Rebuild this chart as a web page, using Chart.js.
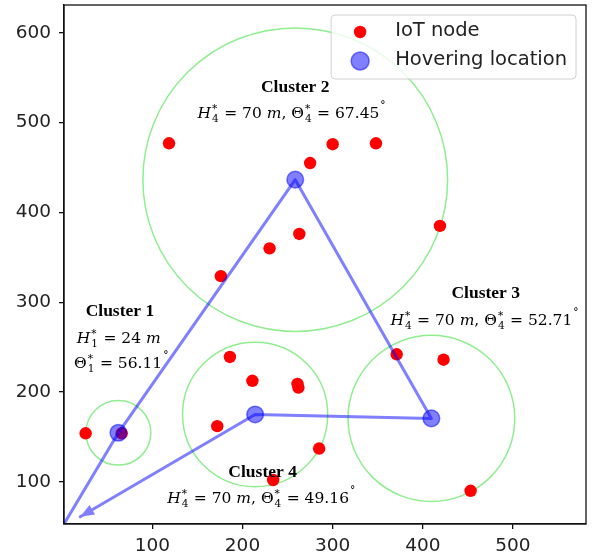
<!DOCTYPE html>
<html lang="en">
<head>
<meta charset="UTF-8">
<title>UAV hovering locations</title>
<script src="https://cdn.jsdelivr.net/npm/chart.js"></script>
<style>
    body { margin: 0; background: #fff; }
    #wrap { width: 594px; height: 560px; position: relative; }
</style>
</head>
<body>
<div id="wrap"><canvas id="clusterChart"></canvas></div>
<script>
// IoT node positions (m)
const nodeX = [26, 66, 118.5, 300, 348, 275, 419, 263, 230, 176, 186, 211, 261, 262, 172, 234, 285, 371, 423, 453];
const nodeY = [154, 154, 477, 476, 477, 455, 385, 376, 360, 329, 239, 212.5, 209, 205, 162, 102, 137, 242, 236, 90];

// hovering location of each cluster (cluster 1..4) and its coverage radius
const hoverX = [62.3, 258.5, 409.5, 214];
const hoverY = [154.6, 436.5, 170.6, 175];
const coverRadius = [36, 169, 92.5, 80.5];

// flight starts at the depot, visits clusters 1 -> 2 -> 3 -> 4, then returns
const pathStart = [2, 53];
const pathEnd = [20, 61];

// axis ranges / ticks
const xRange = [2, 581];
const yRange = [53, 631];
const xTicks = [100, 200, 300, 400, 500];
const yTicks = [100, 200, 300, 400, 500, 600];

// annotations
const clusterNames = ['Cluster 1', 'Cluster 2', 'Cluster 3', 'Cluster 4'];
const heightVals = ['24', '70', '70', '70'];
const angleVals = ['56.11', '67.45', '52.71', '49.16'];
const subIndex = ['1', '4', '4', '4'];
const titleX = [64, 258.4, 469.8, 222.3];
const titleY = [284.5, 534.3, 304.2, 105.6];
const mathX = [254.7, 468.7, 221];      // clusters 2..4, one line
const mathY = [504.7, 274.5, 76];
const c1LineX = [62.7, 65.8];           // cluster 1, two lines
const c1LineY = [254.6, 226.3];

const blueA = 'rgba(0,0,255,0.5)';
const mainFont = '15.5px "DejaVu Serif"';
const scriptFont = '10.5px "DejaVu Serif"';

function drawRuns(ctx, runs, cx, by) {
    const widths = runs.map(r => {
        if (r.sup !== undefined || r.sub !== undefined) {
            ctx.font = scriptFont;
            const a = r.sup ? ctx.measureText(r.sup).width : 0;
            const b = r.sub ? ctx.measureText(r.sub).width : 0;
            return Math.max(a, b) + 1.5;
        }
        ctx.font = (r.i ? 'italic ' : '') + mainFont;
        return ctx.measureText(r.t).width;
    });
    const total = widths.reduce((s, w) => s + w, 0);
    let px = cx - total / 2;
    ctx.textAlign = 'left';
    ctx.textBaseline = 'alphabetic';
    runs.forEach((r, k) => {
        if (r.sup !== undefined || r.sub !== undefined) {
            ctx.font = scriptFont;
            if (r.sup) ctx.fillText(r.sup, px + 1, by - (r.sup === '°' ? 9 : 6));
            if (r.sub) ctx.fillText(r.sub, px + 1, by + 4);
        } else {
            ctx.font = (r.i ? 'italic ' : '') + mainFont;
            ctx.fillText(r.t, px, by);
        }
        px += widths[k];
    });
}

function mathLine(k) {
    return [
        {t: 'H', i: true}, {sup: '*', sub: subIndex[k]},
        {t: ' = ' + heightVals[k] + ' '}, {t: 'm', i: true}, {t: ', '},
        {t: 'Θ'}, {sup: '*', sub: subIndex[k]},
        {t: ' = ' + angleVals[k]}, {sup: '°'}
    ];
}

const decor = {
    id: 'decor',
    beforeDatasetsDraw(chart) {
        const {ctx, chartArea, scales: {x, y}} = chart;
        ctx.save();
        ctx.beginPath();
        ctx.rect(chartArea.left, chartArea.top, chartArea.width, chartArea.height);
        ctx.clip();
        ctx.strokeStyle = '#90ee90';
        ctx.lineWidth = 1.5;
        hoverX.forEach((hx, i) => {
            const cx = x.getPixelForValue(hx), cy = y.getPixelForValue(hoverY[i]);
            const rx = Math.abs(x.getPixelForValue(hx + coverRadius[i]) - cx);
            const ry = Math.abs(y.getPixelForValue(hoverY[i] + coverRadius[i]) - cy);
            ctx.beginPath();
            ctx.ellipse(cx, cy, rx, ry, 0, 0, Math.PI * 2);
            ctx.stroke();
        });
        ctx.restore();
    },
    afterDatasetsDraw(chart) {
        const {ctx, chartArea, scales: {x, y}} = chart;
        ctx.save();

        // arrow head at the end of the return leg
        const n = hoverX.length - 1;
        const tx = x.getPixelForValue(pathEnd[0]), ty = y.getPixelForValue(pathEnd[1]);
        const fx = x.getPixelForValue(hoverX[n]), fy = y.getPixelForValue(hoverY[n]);
        const ang = Math.atan2(ty - fy, tx - fx);
        const hl = 14, hw = 5.5;
        ctx.fillStyle = '#8080ff';
        ctx.beginPath();
        ctx.moveTo(tx, ty);
        ctx.lineTo(tx - hl * Math.cos(ang) - hw * Math.sin(ang), ty - hl * Math.sin(ang) + hw * Math.cos(ang));
        ctx.lineTo(tx - hl * Math.cos(ang) + hw * Math.sin(ang), ty - hl * Math.sin(ang) - hw * Math.cos(ang));
        ctx.closePath();
        ctx.fill();

        // cluster annotations
        ctx.fillStyle = '#000';
        clusterNames.forEach((name, i) => {
            ctx.font = 'bold 17.5px "Liberation Serif"';
            ctx.textAlign = 'center';
            ctx.textBaseline = 'alphabetic';
            ctx.fillText(name, x.getPixelForValue(titleX[i]), y.getPixelForValue(titleY[i]));
        });
        drawRuns(ctx, [{t: 'H', i: true}, {sup: '*', sub: '1'}, {t: ' = ' + heightVals[0] + ' '}, {t: 'm', i: true}],
            x.getPixelForValue(c1LineX[0]), y.getPixelForValue(c1LineY[0]));
        drawRuns(ctx, [{t: 'Θ'}, {sup: '*', sub: '1'}, {t: ' = ' + angleVals[0]}, {sup: '°'}],
            x.getPixelForValue(c1LineX[1]), y.getPixelForValue(c1LineY[1]));
        for (let k = 1; k < 4; k++) {
            drawRuns(ctx, mathLine(k), x.getPixelForValue(mathX[k - 1]), y.getPixelForValue(mathY[k - 1]));
        }

        // frame
        ctx.strokeStyle = '#111';
        ctx.lineWidth = 1.3;
        ctx.strokeRect(chartArea.left, chartArea.top, chartArea.width, chartArea.height);

        // legend
        const items = [chart.data.datasets[0], chart.data.datasets[2]];
        ctx.font = '19.5px "DejaVu Sans"';
        const tw = Math.max(...items.map(d => ctx.measureText(d.label).width));
        const bw = 64 + tw + 9, bh = 64;
        const bx = chartArea.right - 10 - bw, byy = chartArea.top + 10;
        ctx.fillStyle = 'rgba(255,255,255,0.8)';
        ctx.strokeStyle = '#d0d0d0';
        ctx.lineWidth = 1;
        ctx.beginPath();
        ctx.roundRect(bx, byy, bw, bh, 4);
        ctx.fill();
        ctx.stroke();
        items.forEach((d, k) => {
            const ry = byy + 17 + k * 29;
            ctx.fillStyle = d.backgroundColor;
            ctx.beginPath();
            ctx.arc(bx + 29, ry, k === 0 ? 6.2 : 9, 0, Math.PI * 2);
            ctx.fill();
            if (k === 1) {
                ctx.strokeStyle = d.borderColor;
                ctx.lineWidth = 1.5;
                ctx.stroke();
            }
            ctx.fillStyle = '#222';
            ctx.textAlign = 'left';
            ctx.textBaseline = 'middle';
            ctx.fillText(d.label, bx + 64, ry - 1);
        });
        ctx.restore();
    }
};

const pathData = [{x: pathStart[0], y: pathStart[1]}]
    .concat(hoverX.map((hx, i) => ({x: hx, y: hoverY[i]})))
    .concat([{x: pathEnd[0], y: pathEnd[1]}]);

const axisCommon = {
    type: 'linear',
    grid: { drawOnChartArea: false, drawTicks: true, tickLength: 5, color: '#111', lineWidth: 1.3 },
    border: { color: '#111', width: 1.3 },
    ticks: { font: { family: 'DejaVu Sans', size: 18.5 }, color: '#222', padding: 6 }
};

function noPad(s) {
    s.paddingTop = 0; s.paddingBottom = 0; s.paddingLeft = 0; s.paddingRight = 0;
}

new Chart(document.getElementById('clusterChart'), {
    type: 'scatter',
    data: {
        datasets: [
            {
                label: 'IoT node',
                data: nodeX.map((v, i) => ({x: v, y: nodeY[i]})),
                backgroundColor: 'red', borderColor: 'red',
                pointRadius: 6.2, borderWidth: 0, order: 3
            },
            {
                label: 'route',
                type: 'line',
                data: pathData,
                borderColor: blueA, borderWidth: 3,
                borderJoinStyle: 'round', borderCapStyle: 'round',
                pointRadius: 0, fill: false, tension: 0, order: 2
            },
            {
                label: 'Hovering location',
                data: hoverX.map((v, i) => ({x: v, y: hoverY[i]})),
                backgroundColor: blueA, borderColor: blueA,
                pointRadius: 8.3, borderWidth: 1.5, order: 1
            }
        ]
    },
    options: {
        responsive: true,
        maintainAspectRatio: false,
        animation: false,
        events: [],
        layout: { autoPadding: false, padding: { top: 5, right: 8, left: 0, bottom: 0 } },
        plugins: { legend: { display: false }, tooltip: { enabled: false } },
        scales: {
            x: Object.assign({}, axisCommon, {
                min: xRange[0], max: xRange[1],
                afterBuildTicks: s => { s.ticks = xTicks.map(v => ({value: v})); },
                afterFit: s => { s.height = 36; noPad(s); }
            }),
            y: Object.assign({}, axisCommon, {
                min: yRange[0], max: yRange[1],
                ticks: Object.assign({}, axisCommon.ticks, { padding: 8 }),
                afterBuildTicks: s => { s.ticks = yTicks.map(v => ({value: v})); },
                afterFit: s => { s.width = 64; noPad(s); }
            })
        }
    },
    plugins: [decor]
});
</script>
</body>
</html>
